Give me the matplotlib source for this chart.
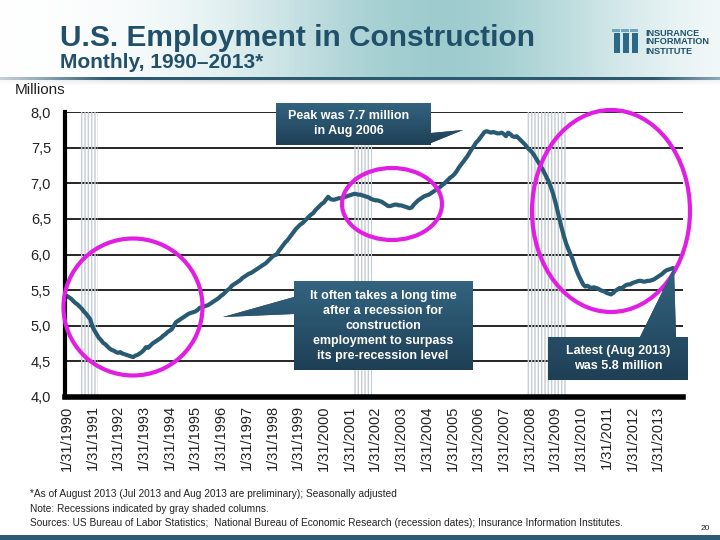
"""U.S. construction employment, monthly 1990-2013, with recession shading."""

import matplotlib

matplotlib.use("Agg")
import matplotlib.pyplot as plt
import numpy as np
import pandas as pd
from matplotlib.patches import Ellipse, Polygon

plt.rcParams["font.family"] = ["Liberation Sans", "DejaVu Sans"]

# monthly employment in construction, millions (Jan 1990 - Aug 2013)
employment = [
    5.42, 5.40, 5.38, 5.35, 5.32, 5.30, 5.27, 5.24, 5.20, 5.17, 5.13, 5.09,  # 1990
    4.99, 4.93, 4.88, 4.83, 4.80, 4.76, 4.74, 4.71, 4.68, 4.66, 4.65, 4.63,  # 1991
    4.62, 4.63, 4.61, 4.60, 4.59, 4.58, 4.57, 4.56, 4.58, 4.59, 4.61, 4.63,  # 1992
    4.66, 4.70, 4.69, 4.72, 4.75, 4.77, 4.79, 4.81, 4.83, 4.86, 4.88, 4.91,  # 1993
    4.93, 4.95, 5.00, 5.05, 5.07, 5.09, 5.11, 5.13, 5.15, 5.17, 5.18, 5.19,  # 1994
    5.20, 5.22, 5.25, 5.26, 5.27, 5.28, 5.29, 5.31, 5.33, 5.35, 5.37, 5.39,  # 1995
    5.42, 5.44, 5.47, 5.50, 5.52, 5.56, 5.58, 5.60, 5.62, 5.64, 5.67, 5.69,  # 1996
    5.71, 5.73, 5.74, 5.76, 5.78, 5.80, 5.82, 5.84, 5.86, 5.88, 5.91, 5.94,  # 1997
    5.97, 5.99, 6.00, 6.05, 6.09, 6.13, 6.17, 6.20, 6.24, 6.28, 6.32, 6.36,  # 1998
    6.39, 6.42, 6.44, 6.47, 6.50, 6.53, 6.56, 6.58, 6.62, 6.65, 6.68, 6.71,  # 1999
    6.73, 6.77, 6.81, 6.78, 6.77, 6.77, 6.78, 6.79, 6.79, 6.80, 6.81, 6.82,  # 2000
    6.83, 6.84, 6.85, 6.85, 6.84, 6.84, 6.83, 6.82, 6.81, 6.80, 6.78, 6.77,  # 2001
    6.76, 6.76, 6.75, 6.74, 6.72, 6.70, 6.68, 6.68, 6.69, 6.70, 6.70, 6.69,  # 2002
    6.69, 6.68, 6.67, 6.66, 6.65, 6.66, 6.70, 6.73, 6.76, 6.78, 6.80, 6.82,  # 2003
    6.83, 6.84, 6.86, 6.88, 6.90, 6.92, 6.94, 6.97, 6.99, 7.02, 7.05, 7.08,  # 2004
    7.10, 7.13, 7.17, 7.22, 7.26, 7.30, 7.34, 7.38, 7.43, 7.48, 7.52, 7.57,  # 2005
    7.60, 7.64, 7.68, 7.72, 7.73, 7.72, 7.71, 7.72, 7.71, 7.70, 7.70, 7.71,  # 2006
    7.69, 7.66, 7.71, 7.69, 7.66, 7.65, 7.66, 7.63, 7.60, 7.57, 7.54, 7.50,  # 2007
    7.47, 7.44, 7.40, 7.35, 7.30, 7.25, 7.20, 7.14, 7.08, 7.02, 6.94, 6.85,  # 2008
    6.74, 6.62, 6.49, 6.37, 6.26, 6.16, 6.08, 6.01, 5.94, 5.85, 5.77, 5.70,  # 2009
    5.64, 5.58, 5.55, 5.56, 5.54, 5.53, 5.54, 5.53, 5.52, 5.50, 5.49, 5.48,  # 2010
    5.46, 5.45, 5.44, 5.46, 5.49, 5.51, 5.53, 5.52, 5.55, 5.57, 5.58, 5.58,  # 2011
    5.60, 5.61, 5.62, 5.63, 5.63, 5.62, 5.62, 5.63, 5.63, 5.64, 5.65, 5.67,  # 2012
    5.69, 5.71, 5.73, 5.76, 5.78, 5.79, 5.80, 5.81,  # 2013
]
start_month = "1990-01"
tick_years = list(range(1990, 2014))
recession_starts = ["1990-07", "2001-03", "2007-12"]
recession_ends = ["1991-03", "2001-11", "2009-06"]
y_ticks = [4.0, 4.5, 5.0, 5.5, 6.0, 6.5, 7.0, 7.5, 8.0]

navy = "#285a73"
text_dark = "#222222"
magenta = "#e11fe3"

W, H = 720, 540
fig = plt.figure(figsize=(7.2, 5.4), dpi=100)


def month_idx(s):
    # months since Jan 1990
    p0 = pd.Period(start_month, "M")
    return (pd.Period(s, "M") - p0).n


# main chart area, placed by pixel
left, right, top, bottom = 65, 683, 112, 397
ax = fig.add_axes([left / W, 1 - bottom / H, (right - left) / W, (bottom - top) / H])

x = np.arange(len(employment))
ax.plot(x, employment, color=navy, lw=3, zorder=4, solid_capstyle="round")

for s, e in zip(recession_starts, recession_ends):
    ax.axvspan(month_idx(s) - 0.5, month_idx(e) + 0.5, facecolor="none",
               edgecolor="#c4ccd4", hatch="|||||", lw=0, zorder=3)

ax.set_ylim(4.0, 8.0)
ax.set_xlim(-0.8, 287.6)
ax.set_yticks(y_ticks)
ax.set_yticklabels([f"{v:.1f}".replace(".", ",") for v in y_ticks],
                   fontsize=10.5, color=text_dark)
ax.set_xticks([(yr - 1990) * 12 for yr in tick_years])
ax.set_xticklabels([f"1/31/{yr}" for yr in tick_years], rotation=90,
                   fontsize=10.5, color=text_dark)
ax.tick_params(length=0, pad=6)
ax.tick_params(axis="y", pad=10)
ax.yaxis.grid(True, color="black", lw=1.2, zorder=1)
ax.set_axisbelow(True)
for side in ["top", "right"]:
    ax.spines[side].set_visible(False)
ax.spines["left"].set_linewidth(3)
ax.spines["bottom"].set_linewidth(4)
ax.spines["left"].set_zorder(6)
ax.spines["bottom"].set_zorder(6)

# overlay in pixel coordinates for the slide decorations
ov = fig.add_axes([0, 0, 1, 1], zorder=5)
ov.set_xlim(0, W)
ov.set_ylim(H, 0)
ov.axis("off")
ov.patch.set_alpha(0)

# header band: teal glow fading out to both sides
xx = np.arange(W)
teal = np.array([0.60, 0.79, 0.80])
glow = np.zeros((78, W, 4))
glow[..., :3] = teal
glow[..., 3] = 0.95 * np.exp(-((xx - 440) / 200.0) ** 2)[None, :]
ov.imshow(glow, extent=(0, W, 78, 0), zorder=0, aspect="auto")
rule = np.zeros((3, W, 4))
rule[..., :3] = np.array([0.17, 0.35, 0.44])
rule[..., 3] = np.clip(1.6 * np.exp(-((xx - 380) / 330.0) ** 4), 0, 1)[None, :]
ov.imshow(rule, extent=(0, W, 80, 77), zorder=1, aspect="auto")
shadow = np.zeros((6, W, 4))
shadow[..., :3] = 0.6
shadow[..., 3] = (np.linspace(0.35, 0, 6)[:, None]
                  * np.exp(-((xx - 380) / 330.0) ** 4)[None, :])
ov.imshow(shadow, extent=(0, W, 86, 80), zorder=1, aspect="auto")

ov.text(60, 38, "U.S. Employment in Construction", fontsize=21.5,
        fontweight="bold", color="#21506a", va="center", ha="left")
ov.text(60, 63, "Monthly, 1990\u20132013*", fontsize=15, fontweight="bold",
        color="#21506a", va="center", ha="left")

# logo
for lx in [614, 623, 632]:
    ov.add_patch(plt.Rectangle((lx, 33), 6, 20, color="#2a6a86", lw=0, zorder=2))
    ov.add_patch(plt.Rectangle((lx - 2, 29), 8, 3, color="#6fa6bd", lw=0, zorder=2))
for j, word in enumerate(["INSURANCE", "INFORMATION", "INSTITUTE"]):
    ov.text(645, 33 + j * 9, word, fontsize=6.6, fontweight="bold",
            color="#21506a", va="center", ha="left")

ov.text(15, 90, "Millions", fontsize=11, color=text_dark, va="center", ha="left")

# circles
for (cx, cy, ew, eh) in [(133, 307, 139, 137), (392, 204, 100, 72), (611, 211, 158, 202)]:
    ov.add_patch(Ellipse((cx, cy), ew, eh, fill=False, edgecolor=magenta,
                         lw=3, zorder=3))


def callout(verts, lines, cx, y0, step=15):
    poly = Polygon(verts, closed=True, facecolor="#24506b", edgecolor="none", zorder=4)
    ov.add_patch(poly)
    xs = [v[0] for v in verts]
    ys = [v[1] for v in verts]
    grad = np.zeros((50, 2, 4))
    grad[..., :3] = np.linspace([0.20, 0.39, 0.50], [0.12, 0.25, 0.34], 50)[:, None, :]
    grad[..., 3] = 1
    im = ov.imshow(grad, extent=(min(xs), max(xs), max(ys), min(ys)),
                   zorder=4.5, aspect="auto", interpolation="bilinear")
    im.set_clip_path(poly)
    for k, ln in enumerate(lines):
        ov.text(cx, y0 + k * step, ln, fontsize=9, fontweight="bold", color="white",
                ha="center", va="center", zorder=6)


callout([(276, 103), (431, 103), (431, 133), (463, 130), (431, 143), (431, 145),
         (276, 145)], ["Peak was 7.7 million", "in Aug 2006"], 349, 116)
callout([(294, 281), (473, 281), (473, 370), (294, 370), (294, 314), (223, 317),
         (294, 297)],
        ["It often takes a long time", "after a recession for", "construction",
         "employment to surpass", "its pre-recession level"], 383, 296)
callout([(548, 337), (640, 337), (674, 268), (676, 337), (688, 337), (688, 380),
         (548, 380)], ["Latest (Aug 2013)", "was 5.8 million"], 618, 351)

notes = [
    "*As of August 2013 (Jul 2013 and Aug 2013 are preliminary); Seasonally adjusted",
    "Note: Recessions indicated by gray shaded columns.",
    "Sources: US Bureau of Labor Statistics;  National Bureau of Economic Research "
    "(recession dates); Insurance Information Institutes.",
]
for k, ln in enumerate(notes):
    ov.text(30, 494 + k * 14.5, ln, fontsize=7.3, color=text_dark, va="center", ha="left")

ov.text(705, 529, "20", fontsize=6, color=text_dark, va="center", ha="center")
ov.add_patch(plt.Rectangle((0, 535), W, 5, color="#2d5a75", lw=0, zorder=2))

fig.savefig("out.png", dpi=100)
